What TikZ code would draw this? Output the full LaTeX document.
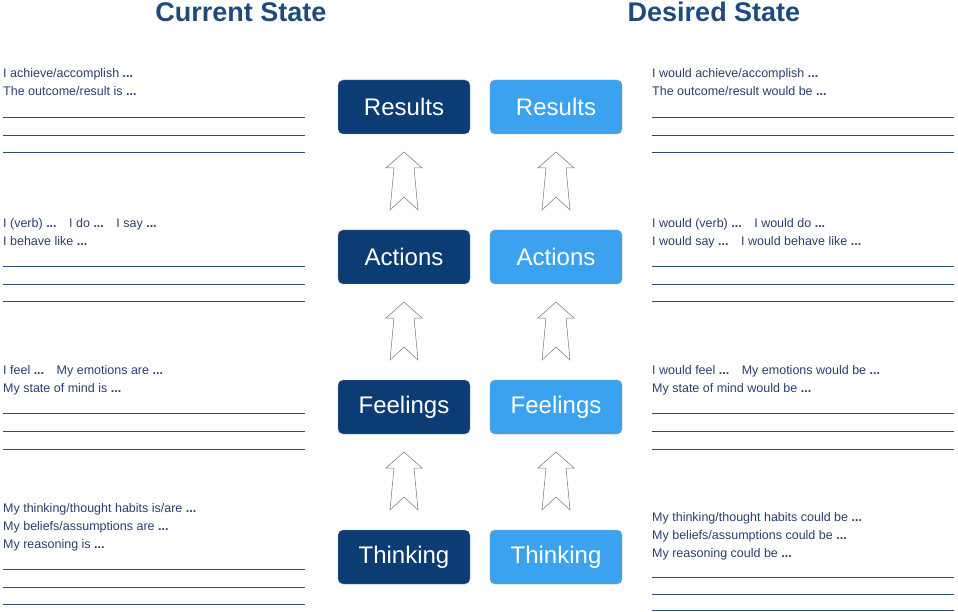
\documentclass[tikz,border=0pt]{standalone}
\usepackage{fontspec}
\setmainfont{Liberation Sans}
\begin{document}
\begin{tikzpicture}[x=1pt,y=-1pt,
  dbox/.style={rounded corners=5pt,minimum width=132pt,minimum height=54pt,text=white,font=\fontsize{24}{26}\selectfont,draw=black!40,fill=ddark},
  lbox/.style={dbox,fill=llight},
  txt/.style={anchor=north west,inner sep=0pt,align=left,text=tcol,font=\fontsize{12.5}{18}\selectfont},
  rule/.style={draw=rcol,line width=0.9pt},
  arr/.style={draw=black!55,fill=white,line width=0.5pt},
  ttl/.style={text=ttlcol,font=\bfseries\fontsize{27}{30}\selectfont}]
\definecolor{ddark}{HTML}{0B3C74}
\definecolor{llight}{HTML}{3BA2F0}
\definecolor{tcol}{HTML}{2A3F6E}
\definecolor{rcol}{HTML}{2E4A7E}
\definecolor{ttlcol}{HTML}{1F4A7E}
\useasboundingbox (0,0) rectangle (958,612);
\node[ttl] (t1) at (241,12) {Current State};
\node[ttl] (t2) at (714,12) {Desired State};
\foreach \n/\t/\y in {r/Results/107,a/Actions/257,f/Feelings/407,k/Thinking/557}{
  \node[dbox] (d\n) at (404,\y) {\t};
  \node[lbox] (l\n) at (556,\y) {\t};
}
\foreach \x in {404,556}{
 \foreach \y in {152,302,452}{
  \draw[arr] (\x,\y) -- ++(18,16) -- ++(-8,0) -- ++(4,42) -- ++(-14,-13) -- ++(-14,13) -- ++(4,-42) -- ++(-8,0) -- cycle;
 }}
\newcommand{\dd}{\textbf{...}}
\node[txt] (a1) at (3,68) {I achieve/accomplish \dd\\The outcome/result is \dd};
\node[txt] (b1) at (652,68) {I would achieve/accomplish \dd\\The outcome/result would be \dd};
\node[txt] (a2) at (3,218) {I (verb) \dd\quad I do \dd\quad I say \dd\\I behave like \dd};
\node[txt] (b2) at (652,218) {I would (verb) \dd\quad I would do \dd\\I would say \dd\quad I would behave like \dd};
\node[txt] (a3) at (3,365) {I feel \dd\quad My emotions are \dd\\My state of mind is \dd};
\node[txt] (b3) at (652,365) {I would feel \dd\quad My emotions would be \dd\\My state of mind would be \dd};
\node[txt] (a4) at (3,503) {My thinking/thought habits is/are \dd\\My beliefs/assumptions are \dd\\My reasoning is \dd};
\node[txt] (b4) at (652,512) {My thinking/thought habits could be \dd\\My beliefs/assumptions could be \dd\\My reasoning could be \dd};
\foreach \y in {117,135,152,266,284,301,413,431,449,569,587,604}{
  \draw[rule] (3,\y) -- (305,\y);}
\foreach \y in {117,135,152,266,284,301,413,431,449,577,594,610}{
  \draw[rule] (652,\y) -- (954,\y);}
\end{tikzpicture}
\end{document}
